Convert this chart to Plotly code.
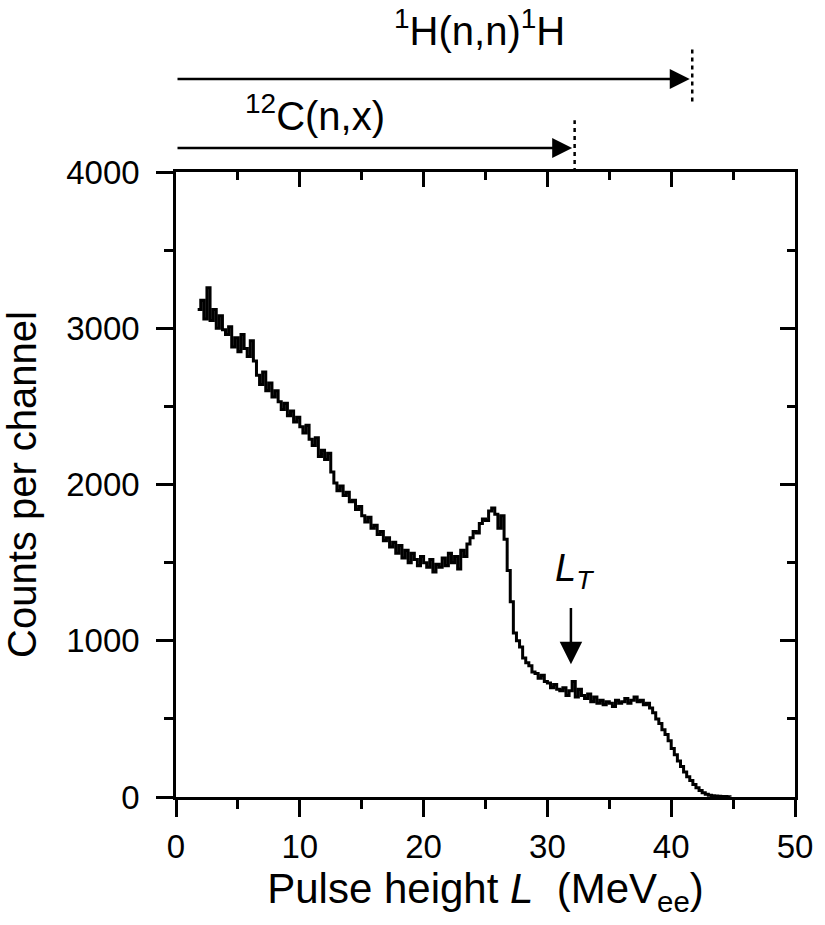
import plotly.graph_objects as go

# Pulse-height spectrum (bin centres in MeV_ee, counts per channel)
pulse_height = [1.75 + 0.25 * i for i in range(173)]
counts = [
    3120, 3180, 3060, 3260, 3050, 3120, 3000, 3080, 2990, 2960, 3010, 2880, 2940, 2850, 2960, 2870,
    2820, 2920, 2790, 2700, 2640, 2720, 2600, 2650, 2560, 2600, 2530, 2480, 2520, 2440, 2470, 2400,
    2430, 2370, 2330, 2380, 2290, 2250, 2300, 2180, 2220, 2160, 2200, 2080, 2010, 1960, 1990, 1930,
    1950, 1890, 1900, 1840, 1860, 1800, 1760, 1790, 1720, 1740, 1680, 1700, 1640, 1660, 1600, 1630,
    1560, 1610, 1530, 1580, 1500, 1560, 1520, 1480, 1540, 1500, 1470, 1520, 1440, 1490, 1470, 1530,
    1480, 1560, 1500, 1540, 1460, 1580, 1540, 1620, 1660, 1700, 1690, 1750, 1780, 1770, 1830, 1850,
    1810, 1720, 1800, 1650, 1450, 1250, 1050, 1000, 960, 890, 860, 840, 800, 790, 760, 780,
    740, 730, 700, 720, 690, 680, 700, 650, 680, 740, 640, 690, 650, 630, 660, 610,
    640, 600, 620, 590, 610, 600, 580, 620, 600, 610, 630, 600, 620, 640, 610, 620,
    590, 600, 570, 540, 500, 470, 430, 400, 360, 310, 270, 230, 195, 160, 130, 105,
    80, 60, 42, 28, 18, 12, 8, 6, 5, 4, 3, 2, 1,
]

x_ticks = [0, 10, 20, 30, 40, 50]
y_ticks = [0, 1000, 2000, 3000, 4000]
X_RANGE = [0, 50]
Y_RANGE = [0, 4000]

# Kinematic end-points (MeV_ee)
h_end = 41.7
c_end = 32.2
lt_pos = 31.9


def xdom(v):
    """data x -> fraction of the x axis domain"""
    return (v - X_RANGE[0]) / (X_RANGE[1] - X_RANGE[0])


FONT = "Liberation Sans, Arial, Helvetica, sans-serif"

fig = go.Figure()
fig.add_trace(go.Scatter(
    x=pulse_height, y=counts, mode="lines",
    line=dict(color="black", width=3, shape="hv"),
    showlegend=False, hoverinfo="skip",
))
# invisible trace on mirror axes so that they render
fig.add_trace(go.Scatter(x=[None], y=[None], xaxis="x2", yaxis="y2",
                         showlegend=False, hoverinfo="skip"))

axis_common = dict(showline=True, linecolor="black", linewidth=2.5, showgrid=False,
                   zeroline=False, tickcolor="black", tickwidth=2.5)

fig.update_layout(
    width=825, height=925,
    margin=dict(l=176, r=24, t=172, b=128),
    paper_bgcolor="white", plot_bgcolor="white",
    font=dict(family=FONT, color="black"),
    xaxis=dict(range=X_RANGE, tickvals=x_ticks, ticks="outside", ticklen=17,
               minor=dict(dtick=5, ticks="outside", ticklen=9, tickwidth=2.5, tickcolor="black"),
               tickfont=dict(size=33), ticklabelstandoff=2,
               title=dict(text="Pulse height <i>L</i>  (MeV<sub>ee</sub>)",
                          font=dict(size=42), standoff=5),
               **axis_common),
    yaxis=dict(range=Y_RANGE, tickvals=y_ticks, ticks="outside", ticklen=17,
               minor=dict(dtick=500, ticks="outside", ticklen=9, tickwidth=2.5, tickcolor="black"),
               tickfont=dict(size=33), ticklabelstandoff=10,
               title=dict(text="Counts per channel", font=dict(size=40), standoff=18),
               **axis_common),
    xaxis2=dict(range=X_RANGE, overlaying="x", side="top", anchor="y", tickvals=x_ticks,
                ticks="inside", ticklen=15, showticklabels=False,
                minor=dict(dtick=5, ticks="inside", ticklen=8, tickwidth=2.5, tickcolor="black"),
                **axis_common),
    yaxis2=dict(range=Y_RANGE, overlaying="y", side="right", anchor="x", tickvals=y_ticks,
                ticks="inside", ticklen=15, showticklabels=False,
                minor=dict(dtick=500, ticks="inside", ticklen=8, tickwidth=2.5, tickcolor="black"),
                **axis_common),
)

# Range arrows above the plot
fig.add_annotation(x=h_end - 0.2, y=1.1488, xref="x", yref="y domain", ax=0, ay=1.1488,
                   axref="x", ayref="y domain", text="", showarrow=True, arrowhead=2,
                   arrowsize=1.6, arrowwidth=2.5, arrowcolor="black")
fig.add_annotation(x=c_end - 0.2, y=1.0384, xref="x", yref="y domain", ax=0, ay=1.0384,
                   axref="x", ayref="y domain", text="", showarrow=True, arrowhead=2,
                   arrowsize=1.6, arrowwidth=2.5, arrowcolor="black")
fig.add_shape(type="line", xref="paper", yref="paper", x0=xdom(h_end), x1=xdom(h_end),
              y0=1.113, y1=1.200, layer="above",
              line=dict(color="black", width=2.5, dash="4px,4px"))
fig.add_shape(type="line", xref="paper", yref="paper", x0=xdom(c_end), x1=xdom(c_end),
              y0=1.0, y1=1.083, layer="above",
              line=dict(color="black", width=2.5, dash="4px,4px"))
fig.add_annotation(x=24.5, y=1.230, xref="x", yref="paper", showarrow=False, yanchor="middle",
                   text="<sup>1</sup>H(n,n)<sup>1</sup>H", font=dict(size=40))
fig.add_annotation(x=11.2, y=1.094, xref="x", yref="paper", showarrow=False, yanchor="middle",
                   text="<sup>12</sup>C(n,x)", font=dict(size=40))

# L_T marker
fig.add_annotation(x=lt_pos, y=850, ax=lt_pos, ay=1220, xref="x", yref="y", axref="x", ayref="y",
                   text="", showarrow=True, arrowhead=2, arrowsize=1.8, arrowwidth=2.5,
                   arrowcolor="black")
fig.add_annotation(x=lt_pos + 0.3, y=1445, xref="x", yref="y", showarrow=False,
                   text="<i>L<sub>T</sub></i>", font=dict(size=38))

fig.write_html("out.html")
